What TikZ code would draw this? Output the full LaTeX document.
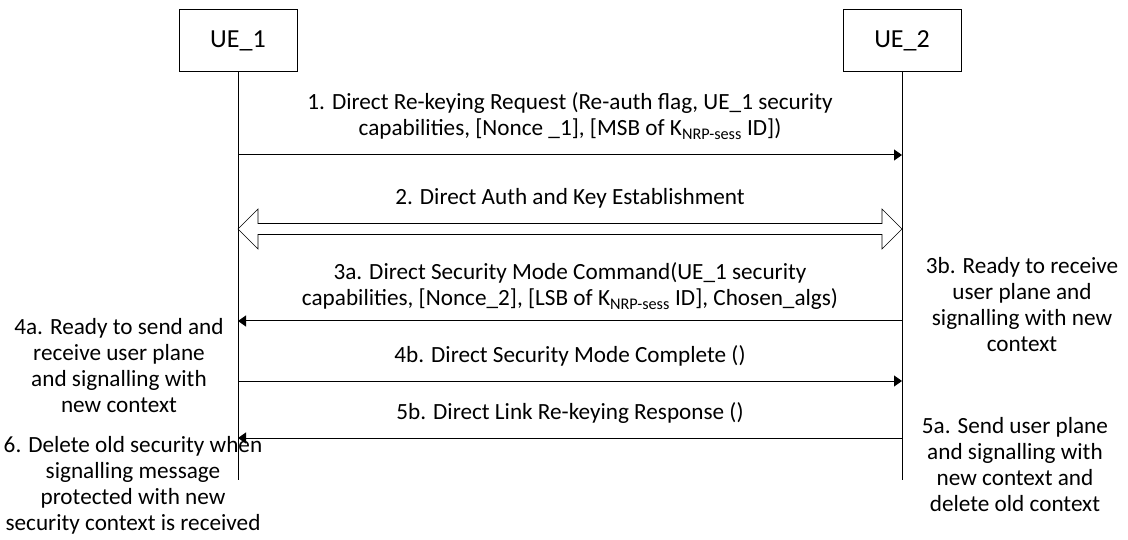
\documentclass[tikz,border=0pt]{standalone}
\usepackage{fontspec}
\setmainfont{Carlito}
\usetikzlibrary{arrows.meta,calc}
\tikzset{
  ent/.style={draw, minimum width=118pt, minimum height=62pt, font=\fontsize{26}{30}\selectfont},
  msg/.style={-{Triangle[length=8pt,width=11pt]}},
  txt/.style={align=center, font=\fontsize{23.2}{26}\selectfont, inner sep=0pt},
}
\begin{document}
\begin{tikzpicture}[x=1pt,y=-1pt,line width=1pt]
\useasboundingbox (0,0) rectangle (1128,540);
% entities and lifelines
\node[ent] (ue1) at (238,41) {UE\_1};
\node[ent] (ue2) at (902,41) {UE\_2};
\coordinate (end) at (0,480);
\draw (ue1) -- (ue1 |- end);
\draw (ue2) -- (ue2 |- end);
% message rows
\coordinate (m1) at (0,155);
\coordinate (m2) at (0,229);
\coordinate (m3) at (0,321);
\coordinate (m4) at (0,381);
\coordinate (m5) at (0,438);
\draw[msg] (ue1 |- m1) -- (ue2 |- m1);
\node[txt] (t1) at (570,116) {1. Direct Re-keying Request (Re-auth flag, UE\_1 security\\
	capabilities, [Nonce \_1], [MSB of K\textsubscript{NRP-sess} ID])};
% double arrow
\coordinate (a2l) at (ue1 |- m2);
\coordinate (a2r) at (ue2 |- m2);
\draw[line width=0.6pt] (a2l) -- ++(20,-20) -- ++(0,14.5) -- ($(a2r)+(-20,-5.5)$) -- ++(0,-14.5) -- (a2r)
	-- ++(-20,20) -- ++(0,-14.5) -- ($(a2l)+(20,5.5)$) -- ++(0,14.5) -- cycle;
\node[txt] (t2) at (570,198) {2. Direct Auth and Key Establishment};
\draw[msg] (ue2 |- m3) -- (ue1 |- m3);
\node[txt] (t3) at (570,286) {3a. Direct Security Mode Command(UE\_1 security\\
	capabilities, [Nonce\_2], [LSB of K\textsubscript{NRP-sess} ID], Chosen\_algs)};
\draw[msg] (ue1 |- m4) -- (ue2 |- m4);
\node[txt] (t4) at (570,356) {4b. Direct Security Mode Complete ()};
\draw[msg] (ue2 |- m5) -- (ue1 |- m5);
\node[txt] (t5) at (570,413) {5b. Direct Link Re-keying Response ()};
% side notes
\node[txt] (n3b) at (1022,305) {3b. Ready to receive\\ user plane and\\ signalling with new\\ context};
\node[txt] (n4a) at (119,366) {4a. Ready to send and\\ receive user plane\\ and signalling with\\ new context};
\node[txt] (n5a) at (1015,465) {5a. Send user plane\\ and signalling with\\ new context and\\ delete old context};
\node[txt] (n6) at (133,485) {6. Delete old security when\\ signalling message\\ protected with new\\ security context is received};
\end{tikzpicture}
\end{document}
